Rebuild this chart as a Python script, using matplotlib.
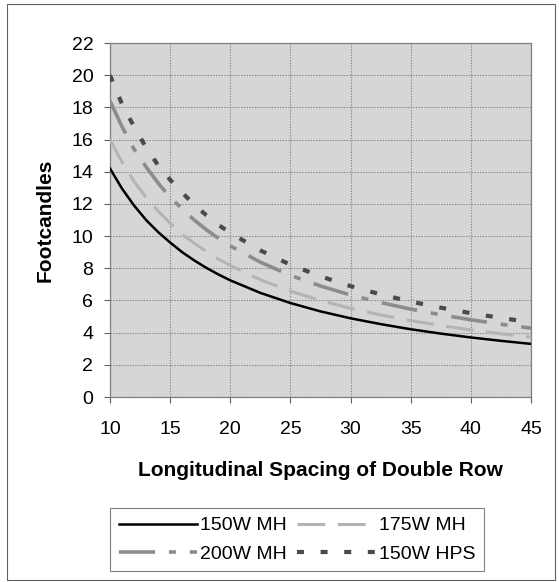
import matplotlib
matplotlib.use("Agg")
import matplotlib.pyplot as plt
from matplotlib.patches import Rectangle

plt.rcParams['font.family'] = ['Liberation Sans', 'DejaVu Sans']
plt.rcParams['lines.scale_dashes'] = False

spacing = [10, 11, 12, 13, 14, 15, 16, 17, 18, 19, 20,
           22.5, 25, 27.5, 30, 32.5, 35, 37.5, 40, 42.5, 45]
mh150 = [14.2, 12.95, 11.9, 11.0, 10.25, 9.6, 9.0, 8.49, 8.03, 7.62, 7.25,
         6.47, 5.84, 5.32, 4.89, 4.53, 4.21, 3.94, 3.70, 3.49, 3.30]
mh175 = [16.0, 14.6, 13.4, 12.4, 11.55, 10.8, 10.1, 9.56, 9.05, 8.58, 8.17,
         7.29, 6.58, 6.0, 5.51, 5.10, 4.75, 4.44, 4.17, 3.93, 3.72]
mh200 = [18.4, 16.8, 15.4, 14.3, 13.3, 12.4, 11.7, 11.0, 10.4, 9.87, 9.39,
         8.38, 7.56, 6.90, 6.34, 5.87, 5.46, 5.11, 4.80, 4.52, 4.28]
hps150 = [20.0, 18.2, 16.8, 15.5, 14.4, 13.5, 12.7, 11.95, 11.3, 10.7, 10.2,
          9.11, 8.22, 7.50, 6.89, 6.38, 5.93, 5.55, 5.21, 4.91, 4.65]

x_ticks = [10, 15, 20, 25, 30, 35, 40, 45]
y_ticks = list(range(0, 23, 2))

fig = plt.figure(figsize=(5.59, 5.82), dpi=100)
fig.patches.append(Rectangle((7 / 559, 2 / 582), 548 / 559, 576 / 582,
                             transform=fig.transFigure, fill=False,
                             edgecolor='#606060', linewidth=0.8))

ax = fig.add_axes([110 / 559, 1 - 397 / 582, 421 / 559, 354 / 582])
ax.set_facecolor('#d6d6d6')

ax.plot(spacing, mh150, color='black', linewidth=1.8, label='150W MH', zorder=5)
ax.plot(spacing, mh200, color='#8c8c8c', linewidth=2.6,
        linestyle=(0, (26, 10, 5, 10)), label='200W MH', zorder=4)
ax.plot(spacing, mh175, color='#b4b4b4', linewidth=2.2,
        linestyle=(0, (20, 9)), label='175W MH', zorder=3)
ax.plot(spacing, hps150, color='#4a4a4a', linewidth=3.0,
        linestyle=(0, (5, 12)), label='150W HPS', zorder=6)

ax.set_xlim(10, 45)
ax.set_ylim(0, 22)
ax.set_xticks(x_ticks)
ax.set_yticks(y_ticks)
ax.tick_params(axis='both', labelsize=14, direction='out', length=4,
               color='#606060', width=0.8)
ax.tick_params(axis='x', pad=13)
ax.tick_params(axis='y', pad=8)
ax.grid(True, color='#8a8a8a', linestyle=(0, (1, 1)), linewidth=0.8)
ax.set_axisbelow(True)
for s in ax.spines.values():
    s.set_color('#808080')
    s.set_linewidth(0.9)

ax.set_xlabel('Longitudinal Spacing of Double Row', fontsize=15,
              fontweight='bold', labelpad=17)
ax.set_ylabel('Footcandles', fontsize=15, fontweight='bold', labelpad=12)

leg = ax.legend(loc='upper left', bbox_to_anchor=(110 / 559, 1 - 508 / 582),
                bbox_transform=fig.transFigure, ncol=2, fontsize=14,
                frameon=True, fancybox=False, edgecolor='#606060',
                handlelength=4.0, columnspacing=0.5, handletextpad=0.2,
                borderpad=0.45, labelspacing=0.55, borderaxespad=0)
leg.get_frame().set_linewidth(0.8)

fig.savefig('out.png', dpi=100)
